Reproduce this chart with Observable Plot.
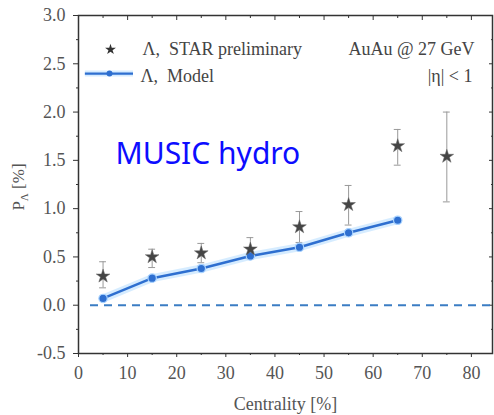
<!DOCTYPE html>
<html><head><meta charset="utf-8">
<script src="https://cdn.jsdelivr.net/npm/d3@7"></script>
<script src="https://cdn.jsdelivr.net/npm/@observablehq/plot@0.6"></script>
<style>
body{margin:0;background:#fff}
#chart svg text, #chart svg tspan{font-family:"Liberation Serif",serif !important;font-variant:normal !important;}
#chart svg g[font-family="Noto Sans"] text{font-family:"Noto Sans",sans-serif !important;}
</style>
</head><body><div id="chart"></div>
<script>
const centrality = [5, 15, 25, 35, 45, 55, 65, 75];
const starValues = [0.30, 0.50, 0.54, 0.58, 0.81, 1.04, 1.65, 1.54];
const starLow    = [0.18, 0.39, 0.44, 0.48, 0.65, 0.83, 1.45, 1.07];
const starHigh   = [0.45, 0.58, 0.64, 0.70, 0.97, 1.24, 1.82, 2.00];
const modelCentrality = [5, 15, 25, 35, 45, 55, 65];
const modelValues     = [0.07, 0.28, 0.38, 0.51, 0.60, 0.75, 0.88];
const xTicks = [0, 10, 20, 30, 40, 50, 60, 70, 80];
const xMinor = [5, 15, 25, 35, 45, 55, 65, 75];
const yTicks = [-0.5, 0.0, 0.5, 1.0, 1.5, 2.0, 2.5, 3.0];
const yMinor = [-0.25, 0.25, 0.75, 1.25, 1.75, 2.25, 2.75];

const star = centrality.map((x, i) => ({x, y: starValues[i], lo: starLow[i], hi: starHigh[i]}));
const model = modelCentrality.map((x, i) => ({x, y: modelValues[i]}));

const blue = "#2e6fd0";
const serif = "Liberation Serif";

const chart = Plot.plot({
  width: 494, height: 415,
  marginLeft: 78, marginRight: 2, marginTop: 15, marginBottom: 62,
  x: {domain: [0, 84.3]},
  y: {domain: [-0.5, 3.0]},
  style: {fontFamily: serif, fontSize: "18px", color: "#555", background: "#fff"},
  marks: [
    Plot.axisX({ticks: xTicks, tickSize: 4, tickPadding: 9, tickFormat: d => d, label: "Centrality [%]", labelAnchor: "center", labelArrow: "none", labelOffset: 56, stroke: "#333", fill: "#555", fontFamily: serif, fontSize: 18}),
    Plot.axisX({ticks: xMinor, tickSize: 2, tickFormat: () => "", label: null, stroke: "#333"}),
    Plot.axisX({ticks: xTicks, anchor: "top", tickSize: -4, tickFormat: () => "", label: null, stroke: "#333"}),
    Plot.axisX({ticks: xMinor, anchor: "top", tickSize: -2, tickFormat: () => "", label: null, stroke: "#333"}),
    Plot.axisY({ticks: yTicks, tickSize: 5, tickPadding: 8, tickFormat: d => d.toFixed(1), label: null, stroke: "#333", fill: "#555", fontFamily: serif, fontSize: 18}),
    Plot.axisY({ticks: yMinor, tickSize: 2, tickFormat: () => "", label: null, stroke: "#333"}),
    Plot.axisY({ticks: yTicks, anchor: "right", tickSize: -4, tickFormat: () => "", label: null, stroke: "#333"}),
    Plot.axisY({ticks: yMinor, anchor: "right", tickSize: -2, tickFormat: () => "", label: null, stroke: "#333"}),
    Plot.frame({stroke: "#333", strokeWidth: 1.5}),
    Plot.ruleY([0], {stroke: "#3b7dc4", strokeWidth: 2, strokeDasharray: "8,6", insetLeft: 12}),
    // error bars
    Plot.ruleX(star, {x: "x", y1: "lo", y2: "hi", stroke: "#999", strokeWidth: 1}),
    Plot.ruleY(star, {y: "hi", x1: d => d.x - 0.7, x2: d => d.x + 0.7, stroke: "#999", strokeWidth: 1}),
    Plot.ruleY(star, {y: "lo", x1: d => d.x - 0.7, x2: d => d.x + 0.7, stroke: "#999", strokeWidth: 1}),
    // model
    Plot.line(model, {x: "x", y: "y", stroke: "#c4e4ff", strokeWidth: 8, strokeOpacity: 0.7}),
    Plot.line(model, {x: "x", y: "y", stroke: blue, strokeWidth: 2.5}),
    Plot.dot(model, {x: "x", y: "y", r: 4.2, fill: blue, stroke: "#a9d3ff", strokeWidth: 1.2}),
    // STAR
    Plot.dot(star, {x: "x", y: "y", symbol: "star", r: 4.3, fill: "#454545", stroke: "#666", strokeWidth: 0.5}),
    // legend
    Plot.dot([0], {frameAnchor: "top-left", dx: 32, dy: 34, symbol: "star", r: 3.4, fill: "#333"}),
    Plot.ruleY([2.399], {x1: 1.4, x2: 11.2, stroke: "#c4e4ff", strokeWidth: 6, strokeOpacity: 0.7}),
    Plot.ruleY([2.399], {x1: 1.4, x2: 11.2, stroke: blue, strokeWidth: 2.2}),
    Plot.dot([0], {frameAnchor: "top-left", dx: 31, dy: 58, r: 3, fill: blue}),
    Plot.text(["Λ,  STAR preliminary"], {frameAnchor: "top-left", dx: 64, dy: 34, textAnchor: "start", lineAnchor: "middle", fill: "#444", fontSize: 18}),
    Plot.text(["Λ,  Model"], {frameAnchor: "top-left", dx: 62, dy: 61, textAnchor: "start", lineAnchor: "middle", fill: "#444", fontSize: 18}),
    Plot.text(["AuAu @ 27 GeV"], {frameAnchor: "top-right", dx: -18, dy: 34, textAnchor: "end", lineAnchor: "middle", fill: "#444", fontSize: 18}),
    Plot.text(["|η| < 1"], {frameAnchor: "top-right", dx: -20, dy: 61, textAnchor: "end", lineAnchor: "middle", fill: "#444", fontSize: 18}),
    Plot.text(["MUSIC hydro"], {frameAnchor: "top-left", dx: 37, dy: 138.5, textAnchor: "start", lineAnchor: "middle", fill: "#0d0dff", fontSize: 30, fontFamily: "Noto Sans"})
  ]
});

// y-axis label with subscript
const svg = d3.select(chart);
const lab = svg.append("text")
  .attr("transform", "translate(24,187) rotate(-90)")
  .attr("text-anchor", "middle")
  .attr("font-family", serif)
  .attr("font-size", 17)
  .attr("fill", "#555");
lab.append("tspan").text("P");
lab.append("tspan").attr("font-size", 11).attr("dy", 4).text("Λ");
lab.append("tspan").attr("dy", -4).text(" [%]");

document.getElementById("chart").append(chart);
</script>
</body></html>
